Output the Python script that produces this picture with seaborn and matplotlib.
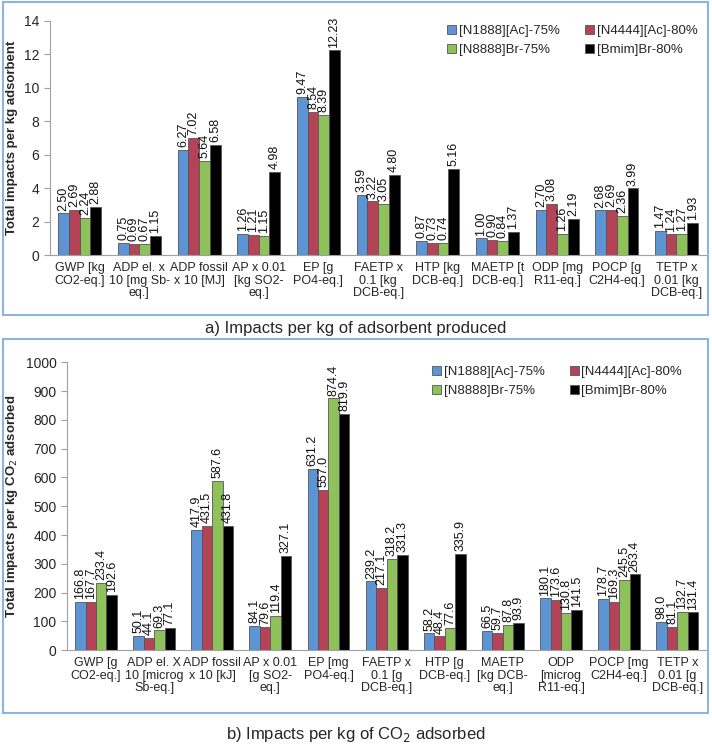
import numpy as np
import pandas as pd
import matplotlib
matplotlib.use('Agg')
import matplotlib.pyplot as plt
from matplotlib.patches import Rectangle
import seaborn as sns

sns.set_style('white')
plt.rcParams['font.family'] = ['Liberation Sans', 'DejaVu Sans']

# ---- data ----
series = ['[N1888][Ac]-75%', '[N4444][Ac]-80%', '[N8888]Br-75%', '[Bmim]Br-80%']
colors = ['#4A93E6', '#C8304C', '#8FD24A', '#000000']

cats_a = ['GWP [kg\nCO2-eq.]', 'ADP el. x\n10 [mg Sb-\neq.]', 'ADP fossil\nx 10 [MJ]',
          'AP x 0.01\n[kg SO2-\neq.]', 'EP [g\nPO4-eq.]', 'FAETP x\n0.1 [kg\nDCB-eq.]',
          'HTP [kg\nDCB-eq.]', 'MAETP [t\nDCB-eq.]', 'ODP [mg\nR11-eq.]',
          'POCP [g\nC2H4-eq.]', 'TETP x\n0.01 [kg\nDCB-eq.]']
n1888_a = [2.50, 0.75, 6.27, 1.26, 9.47, 3.59, 0.87, 1.00, 2.70, 2.68, 1.47]
n4444_a = [2.69, 0.69, 7.02, 1.21, 8.54, 3.22, 0.73, 0.90, 3.08, 2.69, 1.24]
n8888_a = [2.24, 0.67, 5.64, 1.15, 8.39, 3.05, 0.74, 0.84, 1.26, 2.36, 1.27]
bmim_a = [2.88, 1.15, 6.58, 4.98, 12.23, 4.80, 5.16, 1.37, 2.19, 3.99, 1.93]

cats_b = ['GWP [g\nCO2-eq.]', 'ADP el. X\n10 [microg\nSb-eq.]', 'ADP fossil\nx 10 [kJ]',
          'AP x 0.01\n[g SO2-\neq.]', 'EP [mg\nPO4-eq.]', 'FAETP x\n0.1 [g\nDCB-eq.]',
          'HTP [g\nDCB-eq.]', 'MAETP\n[kg DCB-\neq.]', 'ODP\n[microg\nR11-eq.]',
          'POCP [mg\nC2H4-eq.]', 'TETP x\n0.01 [g\nDCB-eq.]']
n1888_b = [166.8, 50.1, 417.9, 84.1, 631.2, 239.2, 58.2, 66.5, 180.1, 178.7, 98.0]
n4444_b = [167.7, 44.1, 431.5, 79.6, 557.0, 217.1, 48.4, 59.7, 173.6, 169.3, 81.1]
n8888_b = [233.4, 69.3, 587.6, 119.4, 874.4, 318.2, 77.6, 87.8, 130.8, 245.5, 132.7]
bmim_b = [192.6, 77.1, 431.8, 327.1, 819.9, 331.3, 335.9, 93.9, 141.5, 263.4, 131.4]


def long_df(cats, vals):
    rows = []
    for s, v in zip(series, vals):
        for c, x in zip(cats, v):
            rows.append({'cat': c, 'series': s, 'value': x})
    return pd.DataFrame(rows)


def draw(ax, cats, vals, fmt, ymax, ystep, ylabel, leg_anchor):
    df = long_df(cats, vals)
    sns.barplot(data=df, x='cat', y='value', hue='series', palette=colors,
                width=0.72, edgecolor='#555555', linewidth=0.6, ax=ax,
                hue_order=series, order=cats)
    for cont in ax.containers:
        ax.bar_label(cont, fmt=fmt, rotation=90, padding=2, fontsize=9, color='#111111')
    ax.set_xlim(-0.5, len(cats) - 0.5)
    ax.set_ylim(0, ymax)
    ax.set_yticks(np.arange(0, ymax + ystep / 2, ystep))
    ax.set_xticks(np.arange(-0.5, len(cats)), minor=True)
    ax.tick_params(axis='x', which='major', length=0, labelsize=9, pad=5)
    ax.tick_params(axis='x', which='minor', length=5, direction='out', color='#A0A0A0', width=0.8)
    ax.tick_params(axis='y', length=4, direction='out', color='#A0A0A0', labelsize=10, left=True)
    for lbl in ax.get_xticklabels():
        lbl.set_linespacing(1.05)
    ax.set_xlabel('')
    ax.set_ylabel(ylabel, fontsize=9.5, fontweight='bold')
    for sp in ['top', 'right']:
        ax.spines[sp].set_visible(False)
    for sp in ['left', 'bottom']:
        ax.spines[sp].set_color('#A0A0A0')
        ax.spines[sp].set_linewidth(0.8)
    # row-wise legend order: N1888, N4444 / N8888, Bmim
    h, l = ax.get_legend_handles_labels()
    idx = [0, 2, 1, 3]
    ax.legend([h[i] for i in idx], [l[i] for i in idx], loc='upper left',
              bbox_to_anchor=leg_anchor, ncol=2, frameon=False,
              fontsize=9.5, handlelength=0.7, handleheight=0.7, handletextpad=0.2,
              columnspacing=1.9, labelspacing=0.55)


fig = plt.figure(figsize=(7.12, 7.44), dpi=100)

# panel frames
fig.patches.append(Rectangle((0.004, 0.577), 0.991, 0.420, transform=fig.transFigure,
                             fill=False, edgecolor='#8DB3E2', linewidth=1.5))
fig.patches.append(Rectangle((0.004, 0.042), 0.991, 0.502, transform=fig.transFigure,
                             fill=False, edgecolor='#8DB3E2', linewidth=1.5))

ax1 = fig.add_axes([0.070, 0.657, 0.922, 0.315])
draw(ax1, cats_a, [n1888_a, n4444_a, n8888_a, bmim_a], '%.2f', 14, 2,
     'Total impacts per kg adsorbent', (0.587, 1.035))

ax2 = fig.add_axes([0.094, 0.126, 0.898, 0.387])
draw(ax2, cats_b, [n1888_b, n4444_b, n8888_b, bmim_b], '%.1f', 1000, 100,
     'Total impacts per kg CO$_2$ adsorbed', (0.552, 1.03))

fig.text(0.5, 0.558, 'a) Impacts per kg of adsorbent produced', ha='center', va='center', fontsize=12)
fig.text(0.5, 0.013, 'b) Impacts per kg of CO$_2$ adsorbed', ha='center', va='center', fontsize=12)

fig.savefig('out.png', dpi=100)
